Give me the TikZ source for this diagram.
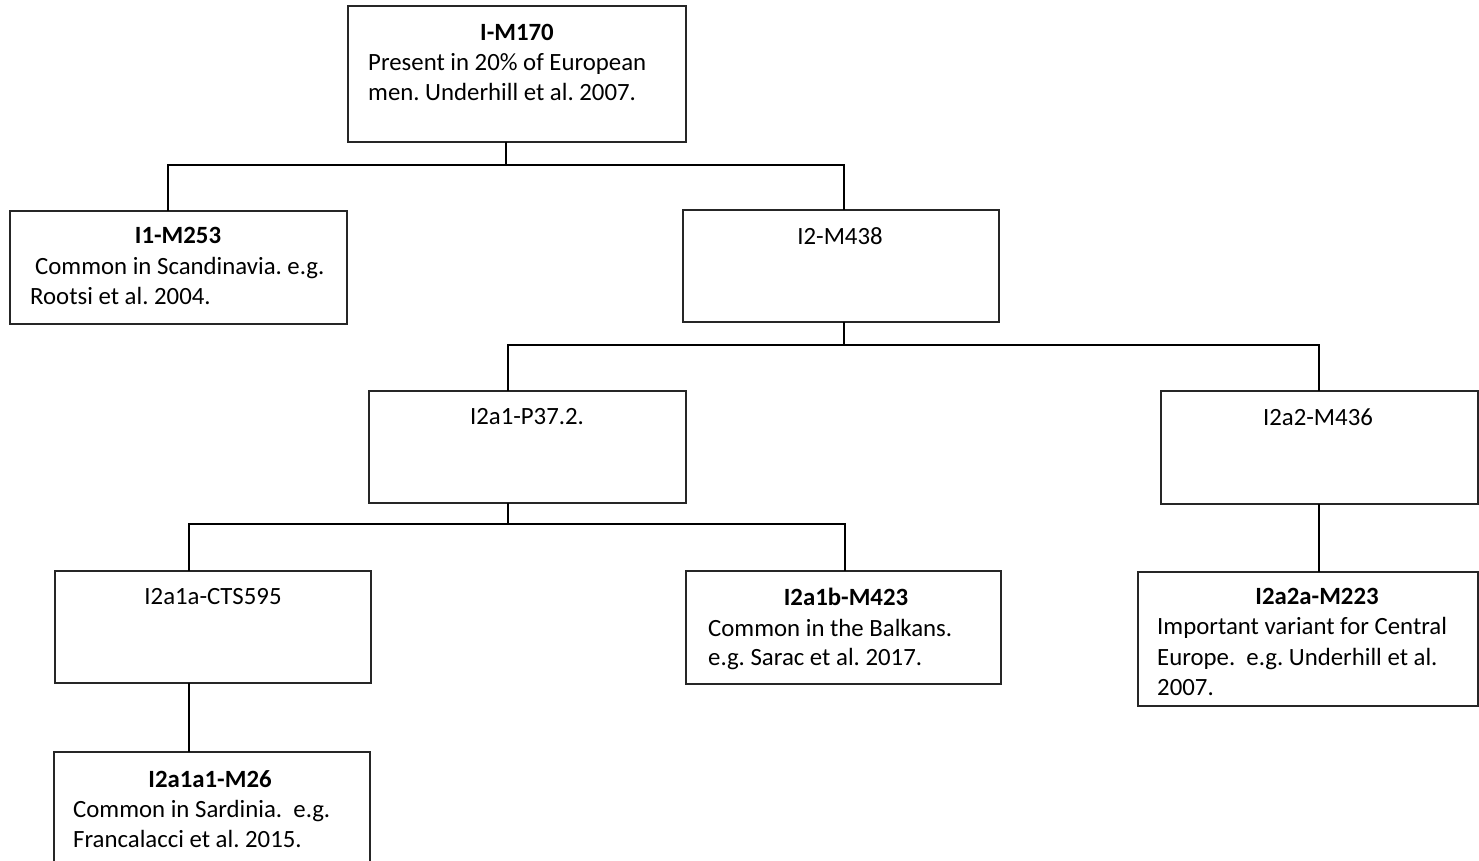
\documentclass[tikz,border=0pt]{standalone}
\usepackage{fontspec}
\setmainfont{Carlito}
\usetikzlibrary{calc}
\begin{document}
\frenchspacing
\begin{tikzpicture}[x=1pt,y=-1pt,
  box/.style={draw=black!85, line width=1.3pt, rectangle, inner sep=0pt, outer sep=0pt, anchor=north west},
  txt/.style={inner sep=0pt, anchor=base west, font=\fontsize{24.8}{29.5}\selectfont},
  ctxt/.style={inner sep=0pt, anchor=base, font=\fontsize{24.8}{29.5}\selectfont},
  ttl/.style={inner sep=0pt, anchor=base, font=\fontsize{24.8}{29.5}\selectfont\bfseries},
  conn/.style={line width=1.8pt, black}]
\useasboundingbox (0,0) rectangle (1479,861);
\fill[white] (0,0) rectangle (1479,861);
% boxes
\node[box, minimum width=338pt, minimum height=136pt] (root) at (348,6) {};
\node[box, minimum width=337pt, minimum height=113pt] (i1) at (10,211) {};
\node[box, minimum width=316pt, minimum height=112pt] (i2) at (683,210) {};
\node[box, minimum width=317pt, minimum height=112pt] (i2a1) at (369,391) {};
\node[box, minimum width=317pt, minimum height=113pt] (i2a2) at (1161,391) {};
\node[box, minimum width=316pt, minimum height=112pt] (i2a1a) at (55,571) {};
\node[box, minimum width=315pt, minimum height=113pt] (i2a1b) at (686,571) {};
\node[box, minimum width=340pt, minimum height=134pt] (i2a2a) at (1138,572) {};
\node[box, minimum width=316pt, minimum height=116pt] (i2a1a1) at (54,752) {};
% texts
\node[ttl] (root-t) at (517,41) {I-M170};
\node[txt] (root-1) at (368,71) {Present in 20\% of European};
\node[txt] (root-2) at (368,101) {men. Underhill et al. 2007.};
\node[ttl] (i1-t) at (178,243) {I1-M253};
\node[txt] (i1-1) at (35,274) {Common in Scandinavia. e.g.};
\node[txt] (i1-2) at (30,304) {Rootsi et al. 2004.};
\node[ctxt] (i2-t) at (840,244) {I2-M438};
\node[ctxt] (i2a1-t) at (527,424) {I2a1-P37.2.};
\node[ctxt] (i2a2-t) at (1318,425) {I2a2-M436};
\node[ctxt] (i2a1a-t) at (213,604) {I2a1a-CTS595};
\node[ttl] (i2a1b-t) at (846,605) {I2a1b-M423};
\node[txt] (i2a1b-1) at (708,636) {Common in the Balkans.};
\node[txt] (i2a1b-2) at (708,665) {e.g. Sarac et al. 2017.};
\node[ttl] (i2a2a-t) at (1317,604) {I2a2a-M223};
\node[txt] (i2a2a-1) at (1157,634) {Important variant for Central};
\node[txt] (i2a2a-2) at (1157,665) {Europe.\ \ e.g. Underhill et al.};
\node[txt] (i2a2a-3) at (1157,695) {2007.};
\node[ttl] (i2a1a1-t) at (210,787) {I2a1a1-M26};
\node[txt] (i2a1a1-1) at (73,817) {Common in Sardinia.\ \ e.g.};
\node[txt] (i2a1a1-2) at (73,847) {Francalacci et al. 2015.};
% connection points
\coordinate (root-o) at ($(root.south west)+(158,0)$);
\coordinate (i1-in) at ($(i1.north west)+(158,0)$);
\coordinate (i2-in) at ($(i2.north west)+(161,0)$);
\coordinate (i2-o) at ($(i2.south west)+(161,0)$);
\coordinate (i2a1-in) at ($(i2a1.north west)+(139,0)$);
\coordinate (i2a1-o) at ($(i2a1.south west)+(139,0)$);
\coordinate (i2a2-in) at ($(i2a2.north west)+(158,0)$);
\coordinate (i2a2-o) at ($(i2a2.south west)+(158,0)$);
\coordinate (i2a1a-in) at ($(i2a1a.north west)+(134,0)$);
\coordinate (i2a1a-o) at ($(i2a1a.south west)+(134,0)$);
\coordinate (i2a1b-in) at ($(i2a1b.north west)+(159,0)$);
\coordinate (i2a2a-in) at ($(i2a2a.north west)+(181,0)$);
\coordinate (i2a1a1-in) at ($(i2a1a1.north west)+(135,0)$);
% connectors
\draw[conn] (root-o) -- ++(0,23) -| (i1-in);
\draw[conn] (root-o) -- ++(0,23) -| (i2-in);
\draw[conn] (i2-o) -- ++(0,23) -| (i2a1-in);
\draw[conn] (i2-o) -- ++(0,23) -| (i2a2-in);
\draw[conn] (i2a1-o) -- ++(0,21) -| (i2a1a-in);
\draw[conn] (i2a1-o) -- ++(0,21) -| (i2a1b-in);
\draw[conn] (i2a2-o) -- (i2a2a-in);
\draw[conn] (i2a1a-o) -- (i2a1a1-in);
\end{tikzpicture}
\end{document}
